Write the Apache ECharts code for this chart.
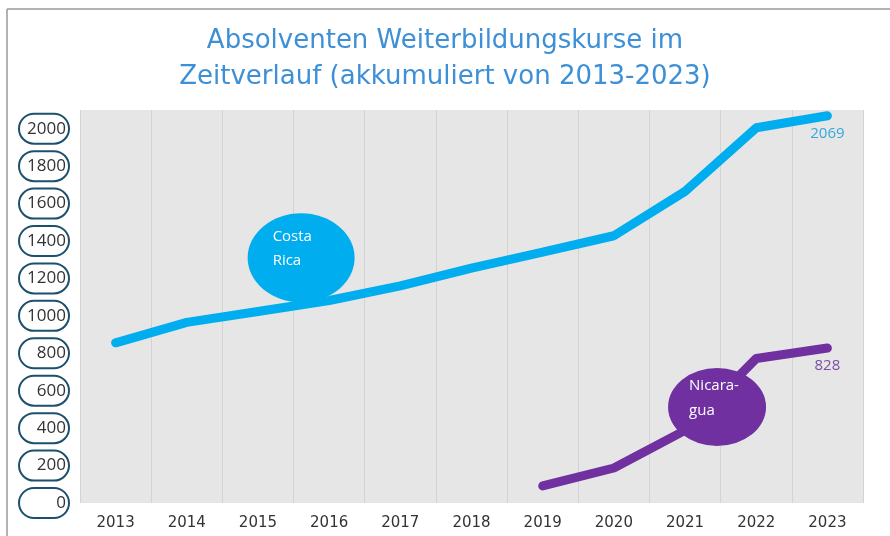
<!DOCTYPE html>
<html>
<head>
<meta charset="utf-8">
<title>Absolventen Weiterbildungskurse</title>
<script src="https://cdn.jsdelivr.net/npm/echarts@6/dist/echarts.min.js"></script>
<style>
	body { margin: 0; background: #fff; }
	#main { width: 890px; height: 536px; }
</style>
</head>
<body>
<div id="main"></div>
<script type="text/javascript">
	// Jahre (x-Achse)
	var years = ['2013', '2014', '2015', '2016', '2017', '2018', '2019', '2020', '2021', '2022', '2023'];
	// Absolventen akkumuliert
	var costaRica = [856, 965, 1023, 1082, 1160, 1255, 1341, 1428, 1665, 2005, 2069];
	var nicaragua = [null, null, null, null, null, null, 91, 187, 388, 772, 828];
	// Sprechblasen
	var bubbleCR = { year: '2016', value: 1310, text: 'Costa\nRica' };
	var bubbleNI = { year: '2021', value: 513, text: 'Nicara-\ngua' };

	var chart = echarts.init(document.getElementById('main'));

	// letzter Punkt bekommt Wertbeschriftung
	function withEndLabel(arr, color) {
		var out = [];
		for (var i = 0; i < arr.length; i++) {
			if (i == arr.length - 1) {
				out.push({
					value: arr[i],
					label: { show: true, position: 'bottom', distance: 10, color: color, fontSize: 15, fontFamily: 'Open Sans' }
				});
			} else {
				out.push(arr[i]);
			}
		}
		return out;
	}

	var option = {
		backgroundColor: '#fff',
		title: {
			text: 'Absolventen Weiterbildungskurse im\nZeitverlauf (akkumuliert von 2013-2023)',
			left: 'center',
			top: 18,
			textStyle: {
				color: '#3d8fd6',
				fontSize: 26,
				fontWeight: 'normal',
				fontFamily: 'DejaVu Sans',
				lineHeight: 36
			}
		},
		grid: {
			left: 80,
			right: 27,
			top: 110,
			bottom: 33,
			show: true,
			backgroundColor: '#e6e6e6',
			borderWidth: 0
		},
		xAxis: {
			type: 'category',
			data: years,
			boundaryGap: true,
			axisLine: { show: false },
			axisTick: { show: false },
			axisLabel: { color: '#333', fontSize: 15, margin: 13, fontFamily: 'DejaVu Sans' },
			splitLine: { show: true, lineStyle: { color: '#d3d3d3', width: 1 } }
		},
		yAxis: {
			type: 'value',
			min: 0,
			max: 2100,
			interval: 200,
			axisLine: { show: false },
			axisTick: { show: false },
			splitLine: { show: false },
			axisLabel: {
				showMaxLabel: false,
				formatter: function (v) { return String(v); },
				color: '#333',
				fontSize: 17,
				fontFamily: 'Open Sans',
				margin: 11,
				width: 44,
				align: 'right',
				lineHeight: 18,
				padding: [6, 3, 6, 3],
				borderColor: '#1d4f6e',
				borderWidth: 2,
				borderRadius: 16
			}
		},
		graphic: [
			{ type: 'line', shape: { x1: 7, y1: 9, x2: 890, y2: 9 }, style: { stroke: '#999', lineWidth: 1.5 } },
			{ type: 'line', shape: { x1: 7, y1: 9, x2: 7, y2: 536 }, style: { stroke: '#999', lineWidth: 1.5 } }
		],
		series: [
			{
				name: 'Costa Rica',
				type: 'line',
				data: withEndLabel(costaRica, '#33a8dc'),
				symbol: 'circle',
				symbolSize: 1,
				itemStyle: { color: '#00aeef' },
				lineStyle: { color: '#00aeef', width: 9, cap: 'round', join: 'round' },
				markPoint: {
					symbol: 'circle',
					symbolSize: [107, 89],
					symbolOffset: [-28, 0],
					itemStyle: { color: '#00aeef' },
					label: {
						show: true,
						position: [25, 11],
						color: '#fff',
						fontSize: 15,
						lineHeight: 24,
						fontFamily: 'Open Sans',
						formatter: bubbleCR.text
					},
					data: [{ coord: [bubbleCR.year, bubbleCR.value] }]
				}
			},
			{
				name: 'Nicaragua',
				type: 'line',
				data: withEndLabel(nicaragua, '#7b4ca6'),
				symbol: 'circle',
				symbolSize: 1,
				itemStyle: { color: '#7030a0' },
				lineStyle: { color: '#7030a0', width: 9, cap: 'round', join: 'round' },
				markPoint: {
					symbol: 'circle',
					symbolSize: [98, 78],
					symbolOffset: [32, 0],
					itemStyle: { color: '#7030a0' },
					label: {
						show: true,
						position: [21, 5],
						color: '#fff',
						fontSize: 15,
						lineHeight: 25,
						fontFamily: 'Open Sans',
						formatter: bubbleNI.text
					},
					data: [{ coord: [bubbleNI.year, bubbleNI.value] }]
				}
			}
		]
	};
	chart.setOption(option);
</script>
</body>
</html>
